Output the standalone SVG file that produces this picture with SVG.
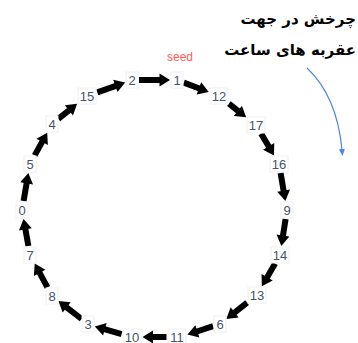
<svg xmlns="http://www.w3.org/2000/svg" width="358" height="343" viewBox="0 0 358 343">
<style>
.lbl{font-family:"Liberation Sans",Arial,sans-serif;font-size:13px;fill:#44546a;text-anchor:middle}
.box{fill:#ffffff;stroke:#f0f0f0;stroke-width:1}
.arr{stroke:#000000;stroke-width:6;fill:none;marker-end:url(#head)}
.fa{font-family:"DejaVu Sans",sans-serif;font-weight:bold;font-size:15px;fill:#000000;text-anchor:end}
</style>
<defs>
<marker id="head" markerUnits="userSpaceOnUse" markerWidth="12" markerHeight="14" viewBox="0 -7 11 14" refX="0.5" refY="0" orient="auto">
<path d="M0,-6.5 L10.5,0 L0,6.5 z" fill="#000000"/>
</marker>
<marker id="bhead" markerUnits="userSpaceOnUse" markerWidth="8" markerHeight="8" viewBox="0 -4 8 8" refX="1" refY="0" orient="auto">
<path d="M0,-3 L7,0 L0,3 z" fill="#4a86e8"/>
</marker>
</defs>
<rect width="358" height="343" fill="#ffffff"/>
<g id="connectors">
<line class="arr" x1="139" y1="80" x2="160" y2="80"/>
<line class="arr" x1="183.8" y1="82.6" x2="199.4" y2="88.5"/>
<line class="arr" x1="228.9" y1="103.7" x2="238.3" y2="111.1"/>
<line class="arr" x1="261.1" y1="133.6" x2="268.9" y2="146.8"/>
<line class="arr" x1="280.6" y1="173.0" x2="283.7" y2="191.2"/>
<line class="arr" x1="285.6" y1="219.0" x2="282.9" y2="236.1"/>
<line class="arr" x1="275.1" y1="263.6" x2="266.9" y2="277.7"/>
<line class="arr" x1="247.1" y1="302.7" x2="234.2" y2="312.8"/>
<line class="arr" x1="213.1" y1="326.2" x2="196.9" y2="331.5"/>
<line class="arr" x1="166.5" y1="337" x2="152.5" y2="337"/>
<line class="arr" x1="121.6" y1="334.2" x2="104.4" y2="329.2"/>
<line class="arr" x1="81.6" y1="319.0" x2="66.3" y2="307.1"/>
<line class="arr" x1="47.4" y1="287.4" x2="39.4" y2="272.4"/>
<line class="arr" x1="28.4" y1="246.0" x2="25.3" y2="228.8"/>
<line class="arr" x1="23.6" y1="201.0" x2="26.7" y2="182.8"/>
<line class="arr" x1="34.7" y1="155.4" x2="42.4" y2="141.4"/>
<line class="arr" x1="58.3" y1="118.9" x2="69.3" y2="110.1"/>
<line class="arr" x1="97.3" y1="92.3" x2="115.8" y2="85.8"/>
<path d="M307,68 Q337,96 342,150" fill="none" stroke="#4a86e8" stroke-width="1.2" marker-end="url(#bhead)"/>
</g>
<g id="node-2"><rect class="box" x="126" y="72" width="12" height="16"/><text class="lbl" x="132" y="84.5">2</text></g>
<g id="node-1"><rect class="box" x="171" y="72" width="12" height="16"/><text class="lbl" x="177" y="84.5">1</text></g>
<g id="node-12"><rect class="box" x="210" y="88" width="18" height="16"/><text class="lbl" x="219" y="100.5">12</text></g>
<g id="node-17"><rect class="box" x="247" y="117" width="18" height="16"/><text class="lbl" x="256" y="129.5">17</text></g>
<g id="node-16"><rect class="box" x="270" y="156" width="18" height="16"/><text class="lbl" x="279" y="168.5">16</text></g>
<g id="node-9"><rect class="box" x="281" y="202" width="12" height="16"/><text class="lbl" x="287" y="214.5">9</text></g>
<g id="node-14"><rect class="box" x="271" y="247" width="18" height="16"/><text class="lbl" x="280" y="259.5">14</text></g>
<g id="node-13"><rect class="box" x="248" y="287" width="18" height="16"/><text class="lbl" x="257" y="299.5">13</text></g>
<g id="node-6"><rect class="box" x="214" y="316" width="12" height="16"/><text class="lbl" x="220" y="328.5">6</text></g>
<g id="node-11"><rect class="box" x="168" y="329" width="18" height="14"/><text class="lbl" x="177" y="341.5">11</text></g>
<g id="node-10"><rect class="box" x="123" y="329" width="18" height="14"/><text class="lbl" x="132" y="341.5">10</text></g>
<g id="node-3"><rect class="box" x="82" y="316" width="12" height="16"/><text class="lbl" x="88" y="328.5">3</text></g>
<g id="node-8"><rect class="box" x="46" y="288" width="12" height="16"/><text class="lbl" x="52" y="300.5">8</text></g>
<g id="node-7"><rect class="box" x="24" y="247" width="12" height="16"/><text class="lbl" x="30" y="259.5">7</text></g>
<g id="node-0"><rect class="box" x="16" y="202" width="12" height="16"/><text class="lbl" x="22" y="214.5">0</text></g>
<g id="node-5"><rect class="box" x="24" y="156" width="12" height="16"/><text class="lbl" x="30" y="168.5">5</text></g>
<g id="node-4"><rect class="box" x="46" y="116" width="12" height="16"/><text class="lbl" x="52" y="128.5">4</text></g>
<g id="node-15"><rect class="box" x="78" y="88" width="18" height="16"/><text class="lbl" x="87" y="100.5">15</text></g>
<text x="180" y="61" font-family="Liberation Sans,Arial,sans-serif" font-size="12" fill="#ff5b5b" text-anchor="middle">seed</text>
<g id="caption">
<text class="fa" x="356" y="24">چرخش در جهت</text>
<text class="fa" x="356" y="55">عقربه های ساعت</text>
</g>
</svg>
